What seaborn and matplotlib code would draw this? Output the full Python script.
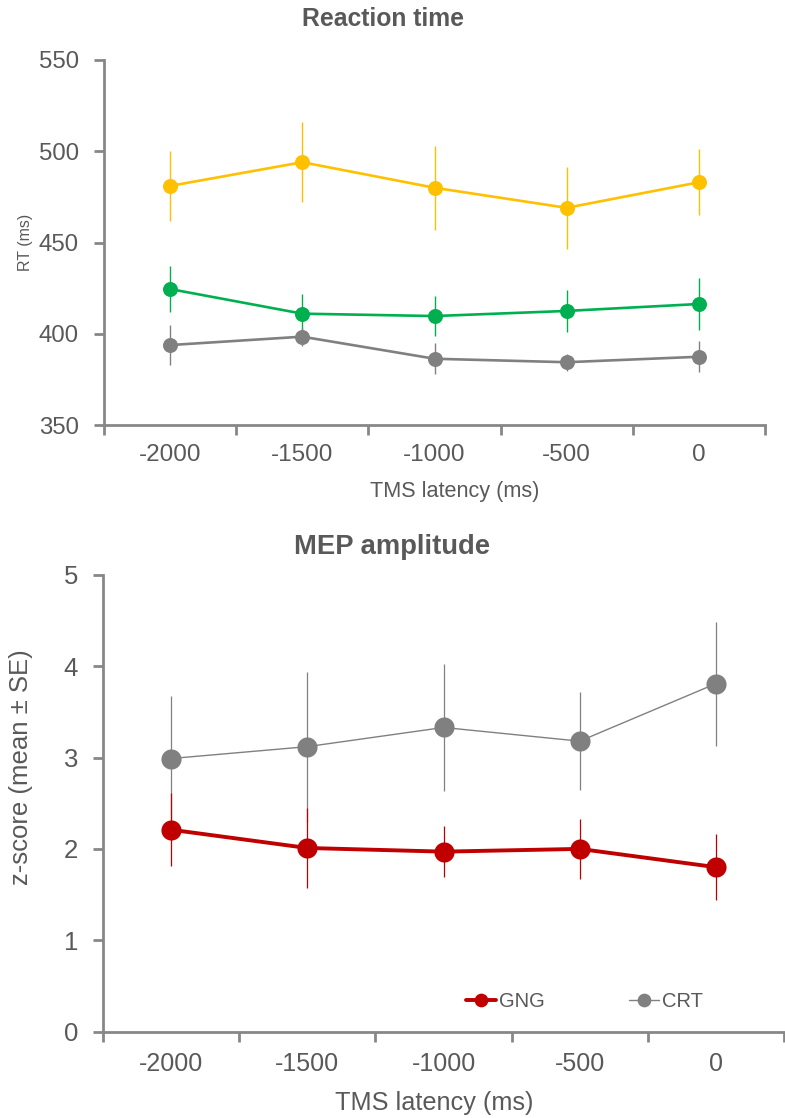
import numpy as np
import matplotlib
matplotlib.use("Agg")
import matplotlib.pyplot as plt
import seaborn as sns

# TMS latency conditions (ms)
latency = ["-2000", "-1500", "-1000", "-500", "0"]

# Reaction time (ms), mean and SE per series
rt_yellow = [481, 494, 480, 469, 483]
rt_yellow_se = [19, 22, 23, 22.5, 18]
rt_green = [424.5, 411, 409.7, 412.5, 416.3]
rt_green_se = [12.5, 11, 11, 11.5, 14]
rt_gray = [393.8, 398.4, 386.3, 384.4, 387.4]
rt_gray_se = [11, 5, 8.5, 4.7, 8.5]

# MEP amplitude (z-score), mean and SE
mep_gng = [2.21, 2.01, 1.97, 2.00, 1.80]
mep_gng_se = [0.40, 0.44, 0.28, 0.33, 0.36]
mep_crt = [2.99, 3.12, 3.33, 3.18, 3.81]
mep_crt_se = [0.68, 0.82, 0.695, 0.535, 0.68]

YELLOW = "#FFC000"
GREEN = "#00B050"
GRAY = "#808080"
RED = "#C00000"
AXIS = "#878787"
TEXT = "#595959"

sns.set_style("white")
plt.rcParams["font.family"] = ["Liberation Sans", "DejaVu Sans"]
plt.rcParams["text.color"] = TEXT
plt.rcParams["axes.labelcolor"] = TEXT
plt.rcParams["xtick.color"] = TEXT
plt.rcParams["ytick.color"] = TEXT

W, H = 785, 1118
fig = plt.figure(figsize=(W / 100, H / 100), dpi=100)


def frame(px_left, px_right, px_top, px_bottom):
    return fig.add_axes([px_left / W, 1 - px_bottom / H,
                         (px_right - px_left) / W, (px_bottom - px_top) / H])


def style_axes(ax, xsize, ysize, xpad, ypad):
    pos = np.arange(len(latency))
    ax.set_xlim(-0.5, len(latency) - 0.5)
    ax.set_xticks(pos)
    ax.set_xticklabels(latency)
    ax.set_xticks(np.arange(-0.5, len(latency), 1.0), minor=True)
    ax.tick_params(axis="x", which="major", bottom=True, length=0, pad=xpad,
                   labelsize=xsize)
    ax.tick_params(axis="x", which="minor", bottom=True, length=7, width=2,
                   color=AXIS, direction="out")
    ax.tick_params(axis="y", which="major", left=True, length=7, width=2,
                   color=AXIS, direction="out", pad=ypad, labelsize=ysize)
    for s in ("top", "right"):
        ax.spines[s].set_visible(False)
    for s in ("left", "bottom"):
        ax.spines[s].set_color(AXIS)
        ax.spines[s].set_linewidth(2)
    ax.grid(False)


def series(ax, values, se, color, lw, ms, elw, label=None):
    pos = np.arange(len(values))
    ax.errorbar(pos, values, yerr=se, fmt="none", ecolor=color, elinewidth=elw,
                capsize=0, zorder=2)
    sns.lineplot(x=pos, y=values, color=color, linewidth=lw, marker="o",
                 markersize=ms, markeredgewidth=0, ax=ax, label=label, zorder=3)


# ---- Reaction time ----
ax1 = frame(104, 765, 60, 425)
series(ax1, rt_yellow, rt_yellow_se, YELLOW, 1.9, 10.8, 1.0)
series(ax1, rt_green, rt_green_se, GREEN, 1.9, 10.8, 1.0)
series(ax1, rt_gray, rt_gray_se, GRAY, 1.9, 10.8, 1.0)
ax1.set_ylim(350, 550)
ax1.set_yticks([350, 400, 450, 500, 550])
style_axes(ax1, 17.5, 17.3, 13.5, 11)
ax1.set_ylabel("RT (ms)", fontsize=11.5)
ax1.yaxis.set_label_coords(-0.107, 0.5)
ax1.set_xlabel("TMS latency (ms)", fontsize=15.6, va="top")
ax1.xaxis.set_label_coords(0.531, -0.153)
fig.text(383 / W, 1 - 19 / H, "Reaction time", ha="center", va="center",
         fontsize=17.8, fontweight="bold", color=TEXT)

# ---- MEP amplitude ----
ax2 = frame(103, 784, 575, 1031.5)
series(ax2, mep_crt, mep_crt_se, GRAY, 1.0, 14.5, 0.9, label="CRT")
series(ax2, mep_gng, mep_gng_se, RED, 2.8, 14.5, 0.9, label="GNG")
ax2.set_ylim(0, 5)
ax2.set_yticks([0, 1, 2, 3, 4, 5])
style_axes(ax2, 18, 18.5, 15, 11)
ax2.set_ylabel("z-score (mean ± SE)", fontsize=18.5)
ax2.yaxis.set_label_coords(-0.103, 0.58)
ax2.set_xlabel("TMS latency (ms)", fontsize=18.2, va="top")
ax2.xaxis.set_label_coords(0.487, -0.13)
fig.text(392 / W, 1 - 547 / H, "MEP amplitude", ha="center", va="center",
         fontsize=19.7, fontweight="bold", color=TEXT)

handles, labels = ax2.get_legend_handles_labels()
order = [labels.index("GNG"), labels.index("CRT")]
ax2.legend([handles[i] for i in order], [labels[i] for i in order],
           ncol=2, frameon=False, loc="center", bbox_to_anchor=(0.707, 0.065),
           fontsize=14.5, markerscale=0.68, handlelength=1.5, handletextpad=0.15,
           columnspacing=4.2, labelcolor=TEXT)

fig.savefig("out.png", dpi=100)
